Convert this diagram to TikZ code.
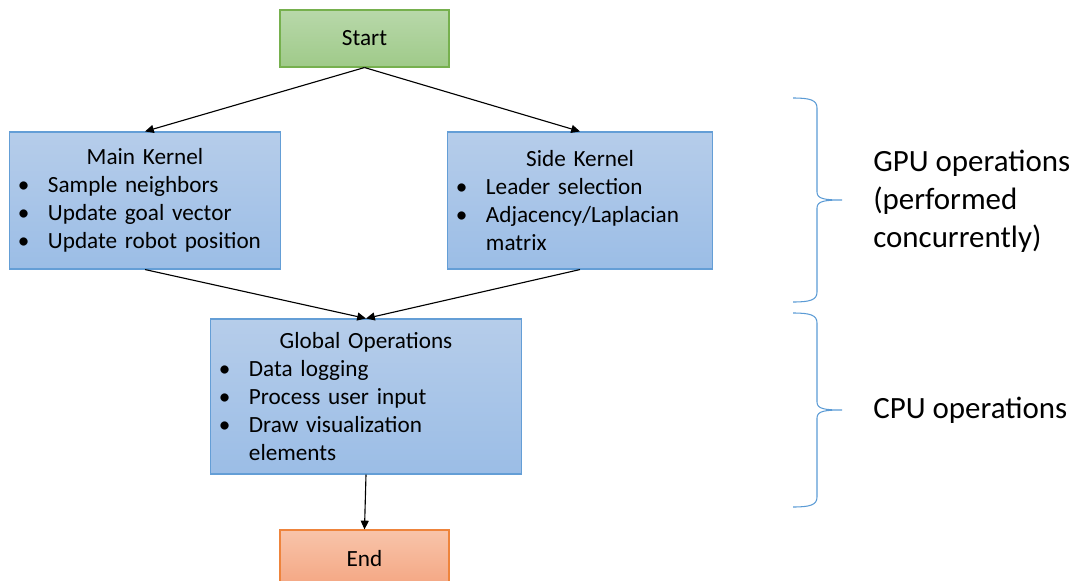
\documentclass[tikz,border=0pt]{standalone}
\usepackage{fontspec}
\setmainfont{Carlito}
\usepackage{tikz}
\usetikzlibrary{arrows.meta}

\definecolor{kernelTop}{RGB}{182,205,234}
\definecolor{kernelBot}{RGB}{155,189,230}
\definecolor{kernelLine}{RGB}{100,158,214}
\definecolor{startTop}{RGB}{184,216,170}
\definecolor{startBot}{RGB}{159,202,137}
\definecolor{startLine}{RGB}{118,176,78}
\definecolor{endTop}{RGB}{248,196,170}
\definecolor{endBot}{RGB}{244,166,130}
\definecolor{endLine}{RGB}{238,132,60}
\definecolor{braceLine}{RGB}{91,155,213}

\tikzset{
    block/.style={rectangle, draw, line width=0.75pt, inner xsep=0.3cm, inner ysep=0pt,
        font=\fontsize{16.5}{19.9}\selectfont},
    kernelbox/.style={block, draw=kernelLine, top color=kernelTop, bottom color=kernelBot, align=left},
    startbox/.style={block, draw=startLine, top color=startTop, bottom color=startBot,
        minimum width=4.225cm, minimum height=1.425cm},
    endbox/.style={block, draw=endLine, top color=endTop, bottom color=endBot,
        minimum width=4.225cm, minimum height=1.425cm},
    arrow/.style={line width=0.8pt, -{Triangle[length=2.2mm, width=2mm]}},
    brace/.style={draw=braceLine, line width=0.75pt},
    optext/.style={anchor=west, inner sep=0pt, align=left, font=\fontsize{22}{27}\selectfont}
}

% box heading, bullet lines and their wrapped continuation
\newcommand{\ktitle}[1]{{\centering #1\par}}
\newcommand{\bitem}[1]{\par\noindent\makebox[0.65cm][l]{\hspace{-0.1cm}\textbullet}#1}
\newcommand{\bcont}[1]{\par\noindent\hspace*{0.65cm}#1}
% curly bracket on the right: top, tip and bottom y
\newcommand{\opbrace}[3]{%
    \draw[brace] (793,#1) .. controls (810,#1) and (817,#1+2) .. (817,#1+10)
        -- (817,#2-8) .. controls (817,#2-1) and (825,#2) .. (842,#2)
        .. controls (825,#2) and (817,#2+1) .. (817,#2+8)
        -- (817,#3-10) .. controls (817,#3-2) and (810,#3) .. (793,#3);}

\begin{document}
\begin{tikzpicture}[x=0.025cm, y=-0.025cm]
    \useasboundingbox (0,0) rectangle (1074,580);
    \clip (0,0) rectangle (1074,580);

    \node[startbox] (start) at (364.5,38.5) {Start};
    \node[kernelbox, text width=6.15cm, minimum height=3.425cm] (main) at (145,200.5)
        {\ktitle{Main Kernel}\bitem{Sample neighbors}\bitem{Update goal vector}\bitem{Update robot position}};
    \node[kernelbox, text width=6.0cm, minimum height=3.425cm] (side) at (580,200.5)
        {\ktitle{Side Kernel}\bitem{Leader selection}\bitem{Adjacency/Laplacian}\bcont{matrix}};
    \node[kernelbox, text width=7.15cm, minimum height=3.875cm] (global) at (366,396.5)
        {\ktitle{Global Operations}\bitem{Data logging}\bitem{Process user input}\bitem{Draw visualization}\bcont{elements}};
    \node[endbox] (end) at (364.5,558.5) {End};

    \path[arrow] (start.south) edge (main.north)
                 (start.south) edge (side.north)
                 (main.south) edge (global.north)
                 (side.south) edge (global.north)
                 (global.south) edge (end.north);

    % GPU / CPU grouping
    \opbrace{98}{200}{302}
    \opbrace{313}{410}{507}
    \node[optext] (gpu) at (873,201) {GPU operations\\(performed\\concurrently)};
    \node[optext] (cpu) at (873,410) {CPU operations};
\end{tikzpicture}
\end{document}
